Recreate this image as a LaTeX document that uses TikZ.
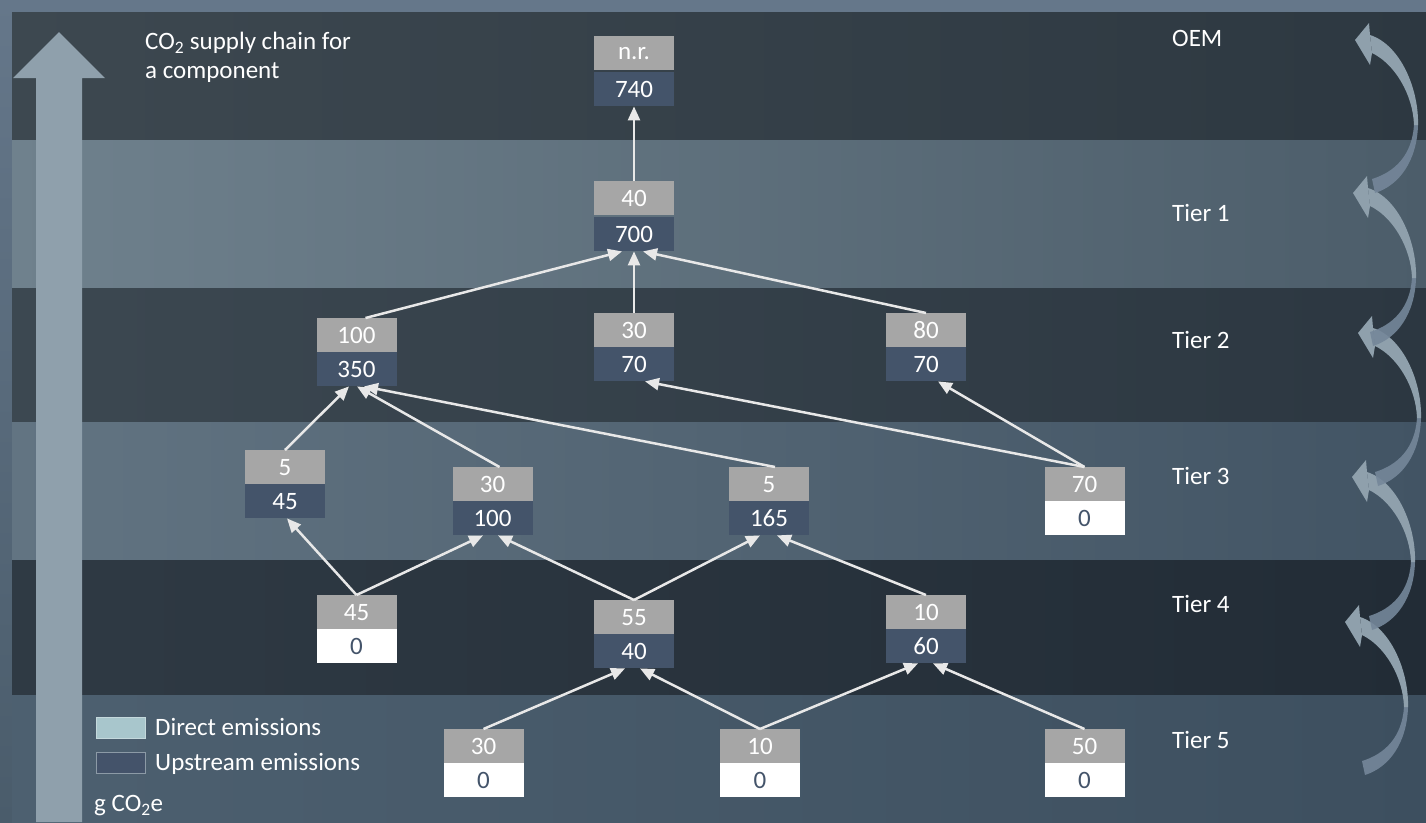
\documentclass[tikz,border=0pt]{standalone}
\usepackage{fontspec}
\setmainfont{Carlito}
\usetikzlibrary{arrows.meta}
\definecolor{cgray}{HTML}{A6A6A6}
\definecolor{cblue}{HTML}{44546A}
\definecolor{clink}{HTML}{E8E8E8}
\definecolor{cbig}{HTML}{8FA0AC}
\definecolor{cbigdark}{HTML}{75879A}
\definecolor{clegd}{HTML}{A8C6CC}
\definecolor{clegdline}{HTML}{C4D8DC}
\definecolor{clegu}{HTML}{44536A}
\definecolor{cleguline}{HTML}{8C9AA6}
\definecolor{frtop}{HTML}{65778A}
\definecolor{frbot}{HTML}{4A5C6B}
\definecolor{bdarkL}{HTML}{3D4850}
\definecolor{bdarkR}{HTML}{2D3841}
\definecolor{blightL}{HTML}{6F818D}
\definecolor{blightR}{HTML}{4C5D6A}
\definecolor{bdark2L}{HTML}{3C4851}
\definecolor{bdark2R}{HTML}{2C3741}
\definecolor{blight3L}{HTML}{627482}
\definecolor{blight3R}{HTML}{425464}
\definecolor{bdark4L}{HTML}{2F3A44}
\definecolor{bdark4R}{HTML}{222C36}
\definecolor{blight5L}{HTML}{4D6070}
\definecolor{blight5R}{HTML}{3D4F5F}
\newcommand{\curvedarrow}[2]{%
  \begin{scope}[shift={(#1,#2)}]
    \fill[cbigdark, opacity=0.9] (63,85) .. controls (62,120) and (45,145) .. (20,153)
      -- (17,139) .. controls (40,132) and (57,115) .. (59,85) -- cycle;
    \fill[cbig] (15,-5) .. controls (46,5) and (64,50) .. (63,85)
      -- (59,85) .. controls (58,55) and (40,24) .. (17,13) -- cycle;
    \fill[cbig] (0,0) -- (14,-17) -- (15,-5) -- (17,13) -- (15,25) -- cycle;
  \end{scope}}
\begin{document}
\begin{tikzpicture}[x=1pt,y=-1pt,
  every node/.style={font=\fontsize{25}{25}\selectfont, inner sep=0pt},
  cell/.style={minimum width=80pt, minimum height=34pt, anchor=north},
  dcell/.style={cell, fill=cgray, text=white},
  ucell/.style={cell, fill=cblue, text=white},
  zcell/.style={cell, fill=white, text=cblue},
  link/.style={draw=clink, line width=2.5pt, -{Triangle[length=14pt,width=12pt]}},
  label/.style={anchor=west, text=white},
  swatch/.style={minimum width=49pt, minimum height=21pt, line width=1pt}
]
\useasboundingbox (0,0) rectangle (1426,822);
% background frame and bands
\shade[top color=frtop, bottom color=frbot] (0,0) rectangle (1426,822);
\shade[left color=bdarkL, right color=bdarkR] (12,12) rectangle (1426,140);
\shade[left color=blightL, right color=blightR] (12,140) rectangle (1426,288);
\shade[left color=bdark2L, right color=bdark2R] (12,288) rectangle (1426,422);
\shade[left color=blight3L, right color=blight3R] (12,422) rectangle (1426,560);
\shade[left color=bdark4L, right color=bdark4R] (12,560) rectangle (1426,695);
\shade[left color=blight5L, right color=blight5R] (12,695) rectangle (1426,822);
% big upward arrow
\fill[cbig] (36,822) -- (36,78) -- (13,78) -- (59,32) -- (105,78) -- (82,78) -- (82,822) -- cycle;
% curved arrows on the right
\curvedarrow{1345}{622}
\curvedarrow{1352}{477}
\curvedarrow{1358}{333}
\curvedarrow{1353}{193}
\curvedarrow{1355}{40}
% title
\node[anchor=north west, align=left, text=white, font=\fontsize{25}{29}\selectfont] (title) at (145,32)
  {CO\textsubscript{2} supply chain for\\a component};
% tier labels
\node[label] (loem) at (1172,38) {OEM};
\node[label] (l1) at (1172,213) {Tier 1};
\node[label] (l2) at (1172,340) {Tier 2};
\node[label] (l3) at (1172,476) {Tier 3};
\node[label] (l4) at (1172,604) {Tier 4};
\node[label] (l5) at (1172,740) {Tier 5};
% boxes
\node[dcell] (oemd) at (634,36) {n.r.};
\node[ucell] (oemu) at (634,72) {740};
\node[dcell] (t1d) at (634,181) {40};
\node[ucell] (t1u) at (634,217) {700};
\node[dcell] (t2ad) at (356.5,318) {100};
\node[ucell] (t2au) at (356.5,352) {350};
\node[dcell] (t2bd) at (634,313) {30};
\node[ucell] (t2bu) at (634,347) {70};
\node[dcell] (t2cd) at (926,313) {80};
\node[ucell] (t2cu) at (926,347) {70};
\node[dcell] (t3ad) at (285,450) {5};
\node[ucell] (t3au) at (285,484) {45};
\node[dcell] (t3bd) at (492.5,467) {30};
\node[ucell] (t3bu) at (492.5,501) {100};
\node[dcell] (t3cd) at (769,467) {5};
\node[ucell] (t3cu) at (769,501) {165};
\node[dcell] (t3dd) at (1084.5,467) {70};
\node[zcell] (t3du) at (1084.5,501) {0};
\node[dcell] (t4ad) at (356.5,595) {45};
\node[zcell] (t4au) at (356.5,629) {0};
\node[dcell] (t4bd) at (634,600) {55};
\node[ucell] (t4bu) at (634,634) {40};
\node[dcell] (t4cd) at (926,595) {10};
\node[ucell] (t4cu) at (926,629) {60};
\node[dcell] (t5ad) at (483.5,729) {30};
\node[zcell] (t5au) at (483.5,763) {0};
\node[dcell] (t5bd) at (760,729) {10};
\node[zcell] (t5bu) at (760,763) {0};
\node[dcell] (t5cd) at (1084.5,729) {50};
\node[zcell] (t5cu) at (1084.5,763) {0};
% links
\draw[link] (t1d.north) -- (oemu.south);
\draw[link] ([xshift=9pt]t2ad.north) -- ([xshift=-12pt]t1u.south);
\draw[link] (t2bd.north) -- (t1u.south);
\draw[link] (t2cd.north) -- ([xshift=9pt]t1u.south);
\draw[link] (t3ad.north) -- ([xshift=-7.5pt]t2au.south);
\draw[link] ([xshift=7pt]t3bd.north) -- ([xshift=0.5pt]t2au.south);
\draw[link] ([xshift=6pt]t3cd.north) -- ([xshift=7.5pt]t2au.south);
\draw[link] (t3dd.north) -- ([xshift=11pt]t2bu.south);
\draw[link] (t3dd.north) -- ([xshift=12pt]t2cu.south);
\draw[link] (t4ad.north) -- ([xshift=2pt]t3au.south);
\draw[link] (t4ad.north) -- ([xshift=-9.5pt]t3bu.south);
\draw[link] (t4bd.north) -- ([xshift=5.5pt]t3bu.south);
\draw[link] (t4bd.north) -- ([xshift=-9pt]t3cu.south);
\draw[link] (t4cd.north) -- ([xshift=8pt]t3cu.south);
\draw[link] (t5ad.north) -- ([xshift=-9pt]t4bu.south);
\draw[link] (t5bd.north) -- ([xshift=6pt]t4bu.south);
\draw[link] (t5bd.north) -- ([xshift=-8pt]t4cu.south);
\draw[link] (t5cd.north) -- ([xshift=7pt]t4cu.south);
% legend
\node[swatch, fill=clegd, draw=clegdline] (legd) at (120.5,727.5) {};
\node[label] (legdt) at (155,727) {Direct emissions};
\node[swatch, fill=clegu, draw=cleguline] (legu) at (120.5,762.5) {};
\node[label] (legut) at (155,764) {Upstream emissions};
\node[label] (unit) at (94,806) {g CO\textsubscript{2}e};
\end{tikzpicture}
\end{document}
